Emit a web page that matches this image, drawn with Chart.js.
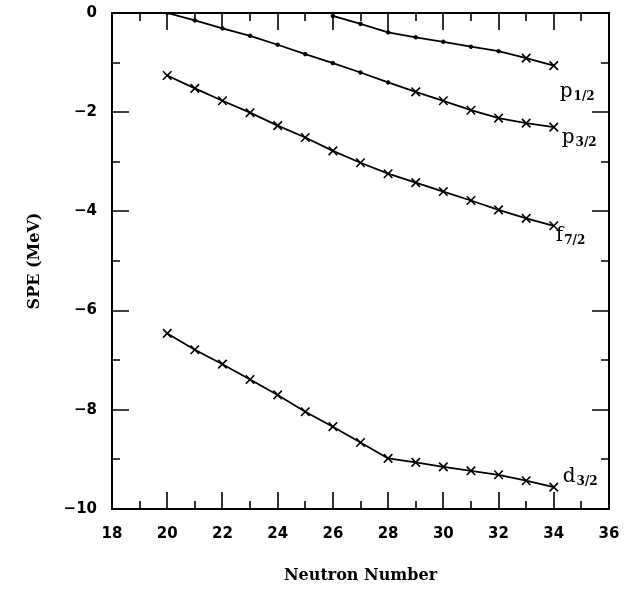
<!DOCTYPE html>
<html>
<head>
<meta charset="utf-8">
<script src="https://cdn.jsdelivr.net/npm/chart.js@4.4.1/dist/chart.umd.min.js"></script>
<style>
  html, body { margin: 0; padding: 0; background: #fff; }
  #wrap { width: 633px; height: 589px; }
</style>
</head>
<body>
<div id="wrap"><canvas id="speChart" width="633" height="589"></canvas></div>
<script>
// neutron numbers and single particle energies (MeV)
const neutrons = [20, 21, 22, 23, 24, 25, 26, 27, 28, 29, 30, 31, 32, 33, 34];
const f72 = [-1.26, -1.52, -1.77, -2.01, -2.27, -2.51, -2.78, -3.02, -3.24, -3.42, -3.60, -3.78, -3.97, -4.14, -4.29];
const d32 = [-6.46, -6.79, -7.08, -7.39, -7.70, -8.04, -8.34, -8.66, -8.98, -9.06, -9.15, -9.23, -9.31, -9.43, -9.56];
const p32 = [0.00, -0.15, -0.31, -0.46, -0.64, -0.83, -1.01, -1.20, -1.40, -1.59, -1.77, -1.96, -2.12, -2.22, -2.30];
const neutronsP12 = [26, 27, 28, 29, 30, 31, 32, 33, 34];
const p12 = [-0.06, -0.22, -0.39, -0.49, -0.58, -0.68, -0.77, -0.91, -1.06];
// first neutron number drawn with a cross marker (earlier ones are small dots)
const p32CrossFrom = 29;
const p12CrossFrom = 33;

const xTicks = [18, 20, 22, 24, 26, 28, 30, 32, 34, 36];
const yTicks = [0, -2, -4, -6, -8, -10];

function pts(xs, ys) {
    return xs.map((x, i) => ({ x: x, y: ys[i] }));
}

function markerStyle(crossFrom) {
    return {
        pointStyle: c => (c.raw && c.raw.x >= crossFrom) ? 'crossRot' : 'circle',
        pointRadius: c => (c.raw && c.raw.x >= crossFrom) ? 6 : 1.8,
        pointBorderWidth: c => (c.raw && c.raw.x >= crossFrom) ? 1.6 : 1,
    };
}

function makeSet(label, data, crossFrom) {
    return Object.assign({
        label: label,
        data: data,
        borderColor: '#000',
        backgroundColor: '#000',
        pointBorderColor: '#000',
        pointBackgroundColor: '#000',
        borderWidth: 1.8,
        tension: 0,
        fill: false
    }, markerStyle(crossFrom));
}

// frame with inward major/minor ticks on all four sides
const framePlugin = {
    id: 'frame',
    afterDraw(chart) {
        const ctx = chart.ctx;
        const a = chart.chartArea;
        const xs = chart.scales.x, ys = chart.scales.y;
        ctx.save();
        ctx.strokeStyle = '#000';
        ctx.lineWidth = 2;
        ctx.strokeRect(a.left, a.top, a.right - a.left, a.bottom - a.top);
        ctx.lineWidth = 1.6;
        ctx.beginPath();
        for (let v = xs.min; v <= xs.max; v += 1) {
            const px = Math.round(xs.getPixelForValue(v));
            const len = (v % 2 === 0) ? 17 : 8;
            ctx.moveTo(px, a.bottom); ctx.lineTo(px, a.bottom - len);
            ctx.moveTo(px, a.top); ctx.lineTo(px, a.top + len);
        }
        for (let v = ys.min; v <= ys.max; v += 1) {
            const py = Math.round(ys.getPixelForValue(v));
            const len = (v % 2 === 0) ? 17 : 8;
            ctx.moveTo(a.left, py); ctx.lineTo(a.left + len, py);
            ctx.moveTo(a.right, py); ctx.lineTo(a.right - len, py);
        }
        ctx.stroke();
        ctx.restore();
    }
};

// orbital labels with subscripts next to the end of each curve
const labelPlugin = {
    id: 'orbitLabels',
    afterDatasetsDraw(chart, args, opts) {
        const ctx = chart.ctx;
        ctx.save();
        ctx.fillStyle = '#000';
        ctx.textBaseline = 'alphabetic';
        opts.items.forEach(it => {
            const meta = chart.getDatasetMeta(it.dataset);
            const last = meta.data[meta.data.length - 1];
            const x = last.x + it.dx, y = last.y + it.dy;
            ctx.font = '20px "DejaVu Serif"';
            ctx.fillText(it.main, x, y);
            const w = ctx.measureText(it.main).width;
            ctx.font = 'bold 12px "DejaVu Serif"';
            ctx.fillText(it.sub, x + w + 1, y + 3);
        });
        ctx.restore();
    }
};

const ctx = document.getElementById('speChart').getContext('2d');
const speChart = new Chart(ctx, {
    type: 'line',
    data: {
        datasets: [
            makeSet('p1/2', pts(neutronsP12, p12), p12CrossFrom),
            makeSet('p3/2', pts(neutrons, p32), p32CrossFrom),
            makeSet('f7/2', pts(neutrons, f72), 0),
            makeSet('d3/2', pts(neutrons, d32), 0)
        ]
    },
    options: {
        responsive: false,
        animation: false,
        layout: { padding: { left: 0, right: 24, top: 13, bottom: 0 } },
        scales: {
            x: {
                type: 'linear',
                min: 18,
                max: 36,
                afterFit: s => { s.height = 80; s.paddingLeft = 0; s.paddingRight = 0; },
                afterBuildTicks: s => { s.ticks = xTicks.map(v => ({ value: v })); },
                grid: { display: false, drawTicks: false },
                border: { display: false },
                ticks: {
                    padding: 16,
                    color: '#000',
                    font: { family: 'DejaVu Sans', size: 15, weight: 'bold' },
                    maxRotation: 0
                },
                title: {
                    display: true,
                    text: 'Neutron Number',
                    color: '#000',
                    font: { family: 'DejaVu Serif', size: 16, weight: 'bold' },
                    padding: { top: 0, bottom: 4 }
                }
            },
            y: {
                type: 'linear',
                min: -10,
                max: 0,
                afterFit: s => { s.width = 112; s.paddingTop = 0; s.paddingBottom = 0; },
                afterBuildTicks: s => { s.ticks = yTicks.map(v => ({ value: v })); },
                grid: { display: false, drawTicks: false },
                border: { display: false },
                ticks: {
                    padding: 15,
                    color: '#000',
                    font: { family: 'DejaVu Sans', size: 15, weight: 'bold' },
                    callback: v => String(v).replace('-', '\u2212')
                },
                title: {
                    display: true,
                    text: 'SPE (MeV)',
                    color: '#000',
                    font: { family: 'DejaVu Serif', size: 16, weight: 'bold' },
                    padding: { top: 25, bottom: 0 }
                }
            }
        },
        plugins: {
            legend: { display: false },
            tooltip: { enabled: false },
            orbitLabels: {
                items: [
                    { dataset: 0, main: 'p', sub: '1/2', dx: 6, dy: 31 },
                    { dataset: 1, main: 'p', sub: '3/2', dx: 8, dy: 16 },
                    { dataset: 2, main: 'f', sub: '7/2', dx: 2, dy: 15 },
                    { dataset: 3, main: 'd', sub: '3/2', dx: 9, dy: -5 }
                ]
            }
        }
    },
    plugins: [framePlugin, labelPlugin]
});
</script>
</body>
</html>
